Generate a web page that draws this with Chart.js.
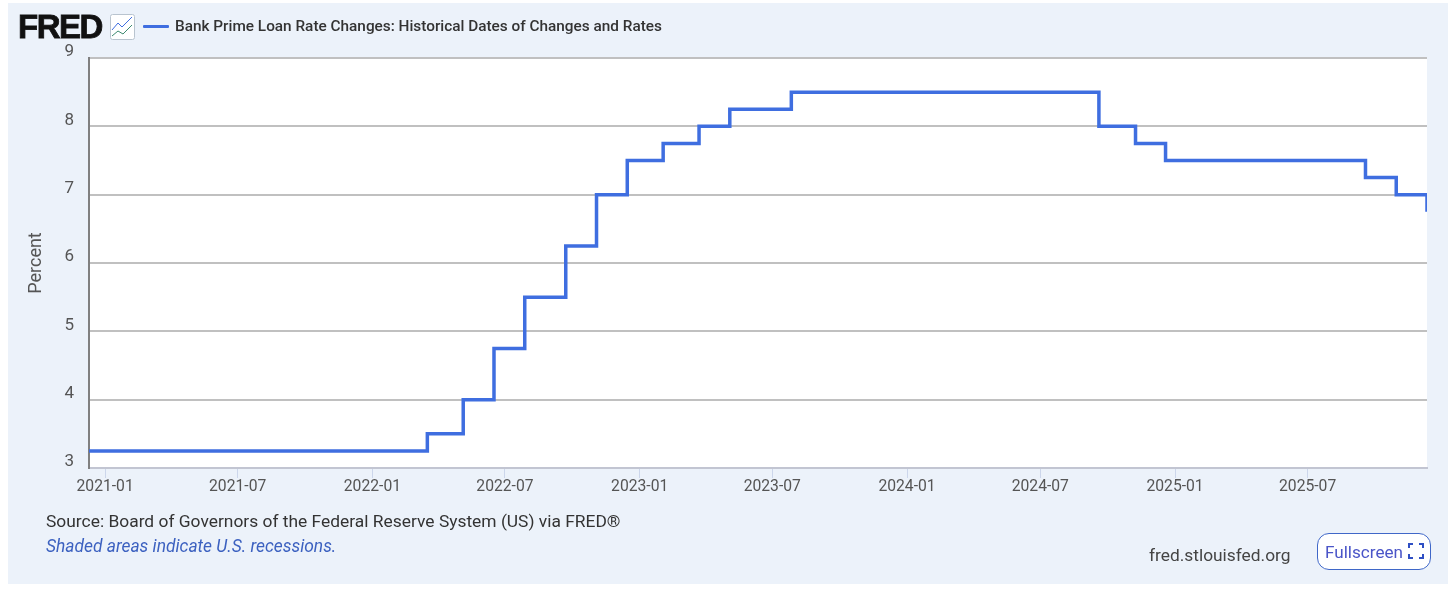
<!DOCTYPE html>
<html>
<head>
<meta charset="utf-8">
<title>Bank Prime Loan Rate Changes</title>
<script src="https://cdn.jsdelivr.net/npm/chart.js@4"></script>
<style>
  html, body { margin: 0; padding: 0; background: #fff; overflow: hidden; }
  #wrap { position: relative; width: 1456px; height: 590px; font-family: Roboto, sans-serif; }
  #panel { position: absolute; left: 8px; top: 3px; width: 1440px; height: 581px; background: #ecf2fa; }
  canvas { position: absolute; left: 0; top: 0; }
  .txt { position: absolute; white-space: nowrap; line-height: 20px; }
  #logo { left: 18px; top: 12px; font: bold 33px/30px "Liberation Sans", sans-serif; letter-spacing: -1.5px; color: #111; -webkit-text-stroke: 0.8px #111; }
  #icon { position: absolute; left: 110px; top: 14px; }
  #key { position: absolute; left: 143px; top: 25px; width: 26px; height: 3px; background: #3f6ee0; border-radius: 1px; }
  #legendText { left: 175px; top: 16px; font-size: 15.35px; font-weight: 500; color: #333; }
  #source { left: 46px; top: 511px; font-size: 17.4px; color: #333; }
  #shaded { left: 46px; top: 536px; font-size: 17.4px; font-style: italic; color: #3c61c0; }
  #site { left: 1149px; top: 545px; font-size: 17.35px; color: #444; }
  #full { position: absolute; left: 1317px; top: 533px; width: 114px; height: 37px; box-sizing: border-box; background: #fff; border: 1px solid #3f67c8; border-radius: 12px; }
  #fullText { left: 7px; top: 8px; font-size: 17.1px; color: #4a55c8; }
  #fullIcon { position: absolute; left: 90px; top: 9px; }
</style>
</head>
<body>
<div id="wrap">
  <div id="panel"></div>
  <canvas id="chart" width="1456" height="590"></canvas>
  <div class="txt" id="logo">FRED</div>
  <svg id="icon" width="25" height="26" viewBox="0 0 25 26">
    <rect x="0.5" y="0.5" width="24" height="25" rx="2" fill="#fff" stroke="#b9c4cf"/>
    <polyline points="2,16 8,9 12,13 22,3" fill="none" stroke="#3f6ee0" stroke-width="1"/>
    <polyline points="2,22 8,17 13,20 22,11" fill="none" stroke="#3d8a70" stroke-width="1"/>
  </svg>
  <div id="key"></div>
  <div class="txt" id="legendText">Bank Prime Loan Rate Changes: Historical Dates of Changes and Rates</div>
  <div class="txt" id="source">Source: Board of Governors of the Federal Reserve System (US) via FRED®</div>
  <div class="txt" id="shaded">Shaded areas indicate U.S. recessions.</div>
  <div class="txt" id="site">fred.stlouisfed.org</div>
  <div id="full">
    <div class="txt" id="fullText">Fullscreen</div>
    <svg id="fullIcon" width="16" height="16" viewBox="0 0 16 16" fill="none" stroke="#2f4fc4" stroke-width="2">
      <polyline points="1,5 1,1 5,1"/><polyline points="11,1 15,1 15,5"/>
      <polyline points="15,11 15,15 11,15"/><polyline points="5,15 1,15 1,11"/>
    </svg>
  </div>
</div>
<script>
'use strict'

// rate in force from each date on
const changeDates = ['2020-12-10', '2022-03-17', '2022-05-05', '2022-06-16', '2022-07-28', '2022-09-22',
  '2022-11-03', '2022-12-15', '2023-02-02', '2023-03-23', '2023-05-04', '2023-07-27',
  '2024-09-19', '2024-11-08', '2024-12-19', '2025-09-18', '2025-10-30', '2025-12-11'];
const rates = [3.25, 3.5, 4, 4.75, 5.5, 6.25, 7, 7.5, 7.75, 8, 8.25, 8.5, 8, 7.75, 7.5, 7.25, 7, 6.75];

const xTickLabels = ['2021-01', '2021-07', '2022-01', '2022-07', '2023-01', '2023-07', '2024-01', '2024-07', '2025-01', '2025-07'];
const yTicks = [3, 4, 5, 6, 7, 8, 9];

const xMin = Date.parse('2020-12-10');
const xMax = Date.parse('2025-12-11');

// white plot background, the panel behind it stays blue
const plotBackground = {
  id: 'plotBackground',
  beforeDraw(chart) {
    const a = chart.chartArea;
    chart.ctx.fillStyle = '#fff';
    chart.ctx.fillRect(a.left, a.top, a.right - a.left, a.bottom - a.top);
  }
};

new Chart(document.getElementById('chart'), {
  type: 'line',
  data: {
    datasets: [{
      label: 'Bank Prime Loan Rate Changes: Historical Dates of Changes and Rates',
      data: changeDates.map((d, i) => ({ x: Date.parse(d), y: rates[i] })),
      stepped: true,
      borderColor: '#3f6ee0',
      borderWidth: 3.5,
      pointRadius: 0,
      clip: 0
    }]
  },
  options: {
    responsive: false,
    animation: false,
    layout: { padding: { top: 58, right: 29, left: 0, bottom: 0 } },
    plugins: { legend: { display: false }, tooltip: { enabled: false } },
    scales: {
      x: {
        type: 'linear',
        min: xMin,
        max: xMax,
        afterBuildTicks(scale) {
          scale.ticks = xTickLabels.map(t => ({ value: Date.parse(t + '-01') }));
        },
        afterFit(scale) { scale.height = 122; },
        grid: { drawOnChartArea: false, tickLength: 10, tickColor: '#ccd6eb', tickWidth: 1 },
        border: { color: '#c2c5d2', width: 2 },
        ticks: {
          autoSkip: false,
          maxRotation: 0,
          padding: 0,
          color: '#555',
          font: { family: 'Roboto', size: 15.7 },
          callback: (v, i) => xTickLabels[i]
        }
      },
      y: {
        min: 3,
        max: 9,
        afterBuildTicks(scale) {
          scale.ticks = yTicks.map(v => ({ value: v }));
        },
        afterFit(scale) { scale.width = 89; },
        grid: { color: '#c0c0c0', lineWidth: 2, drawTicks: false },
        border: { color: '#808080', width: 2 },
        title: {
          display: true,
          text: 'Percent',
          color: '#555',
          font: { family: 'Roboto', size: 18 },
          padding: { top: 26, bottom: 0 }
        },
        ticks: {
          padding: 15,
          labelOffset: -6,
          color: '#555',
          font: { family: 'Roboto', size: 17 }
        }
      }
    }
  },
  plugins: [plotBackground]
});
</script>
</body>
</html>
